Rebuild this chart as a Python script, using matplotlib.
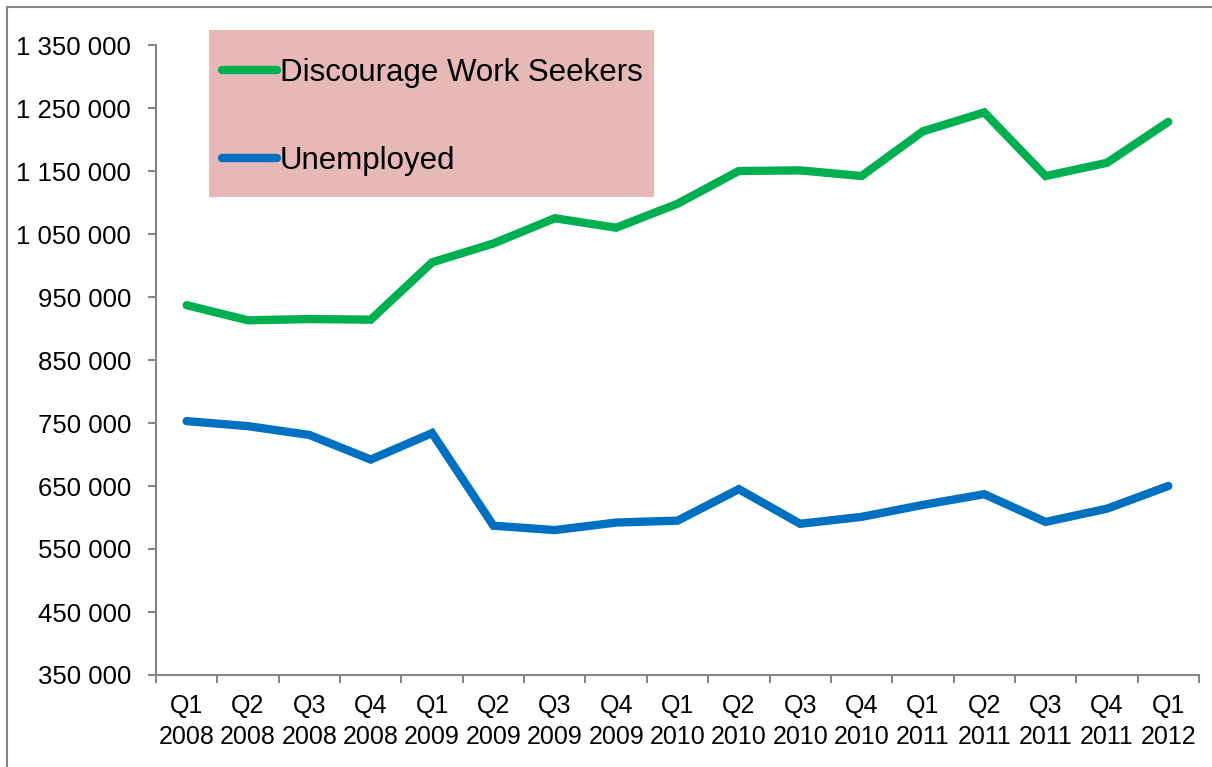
import matplotlib.pyplot as plt
from matplotlib.lines import Line2D
from matplotlib.patches import Rectangle
from matplotlib.ticker import FuncFormatter, FixedLocator

plt.rcParams['font.family'] = ['Liberation Sans', 'DejaVu Sans']

quarters = ["Q1", "Q2", "Q3", "Q4", "Q1", "Q2", "Q3", "Q4", "Q1",
            "Q2", "Q3", "Q4", "Q1", "Q2", "Q3", "Q4", "Q1"]
years = ["2008"] * 4 + ["2009"] * 4 + ["2010"] * 4 + ["2011"] * 4 + ["2012"]
labels = [q + "\n" + y for q, y in zip(quarters, years)]

discouraged = [937000, 913000, 915000, 914000, 1005000, 1035000, 1075000,
               1060000, 1098000, 1150000, 1151000, 1142000, 1213000,
               1243000, 1142000, 1163000, 1228000]
unemployed = [753000, 745000, 731000, 692000, 734000, 587000, 580000,
              592000, 595000, 645000, 590000, 601000, 620000, 637000,
              593000, 614000, 650000]

green = "#00B050"
blue = "#0070C0"
grey = "#868686"

fig = plt.figure(figsize=(12.12, 7.67), dpi=100)
ax = fig.add_axes([156 / 1212, 1 - 675 / 767, (1199 - 156) / 1212, (675 - 45) / 767])

x = list(range(len(labels)))
ax.plot(x, discouraged, color=green, lw=6, solid_capstyle='round',
        solid_joinstyle='miter', label="Discourage Work Seekers")
ax.plot(x, unemployed, color=blue, lw=6, solid_capstyle='round',
        solid_joinstyle='miter', label="Unemployed")

ax.set_xlim(-0.5, len(labels) - 0.5)
ax.set_ylim(350000, 1350000)
ax.set_yticks(range(350000, 1350001, 100000))
ax.yaxis.set_major_formatter(FuncFormatter(lambda v, p: f"{v:,.0f}".replace(",", " ")))

ax.set_xticks(x)
ax.set_xticklabels(labels, linespacing=1.35)
ax.xaxis.set_minor_locator(FixedLocator([i - 0.5 for i in range(len(labels) + 1)]))
ax.tick_params(axis='x', which='major', length=0, pad=14, labelsize=18)
ax.tick_params(axis='x', which='minor', length=6, width=1.5, color=grey, direction='out')
ax.tick_params(axis='y', length=6, width=1.5, color=grey, pad=12, labelsize=18.5)

for s in ['top', 'right']:
    ax.spines[s].set_visible(False)
for s in ['left', 'bottom']:
    ax.spines[s].set_color(grey)
    ax.spines[s].set_linewidth(1.5)

# legend box
fig.patches.append(Rectangle((209 / 1212, 1 - 197 / 767), 445 / 1212, 167 / 767,
                             transform=fig.transFigure, facecolor="#E6B8B7",
                             edgecolor='none', zorder=3))
handles = [Line2D([], [], color=green, lw=6, solid_capstyle='round'),
           Line2D([], [], color=blue, lw=6, solid_capstyle='round')]
leg = fig.legend(handles, ["Discourage Work Seekers", "Unemployed"],
                 loc='upper left', bbox_to_anchor=(222 / 1212, 1 - 58 / 767),
                 frameon=False, fontsize=22.5, handlelength=1.75,
                 handletextpad=0.1, labelspacing=1.85, borderpad=0,
                 borderaxespad=0)
leg.set_zorder(4)

# outer chart border
fig.add_artist(Line2D([7 / 1212, 7 / 1212], [0, 1 - 6.5 / 767], color=grey, lw=1.5,
                      transform=fig.transFigure))
fig.add_artist(Line2D([7 / 1212, 1], [1 - 6.5 / 767, 1 - 6.5 / 767], color=grey, lw=1.5,
                      transform=fig.transFigure))

fig.savefig("out.png", dpi=100)
